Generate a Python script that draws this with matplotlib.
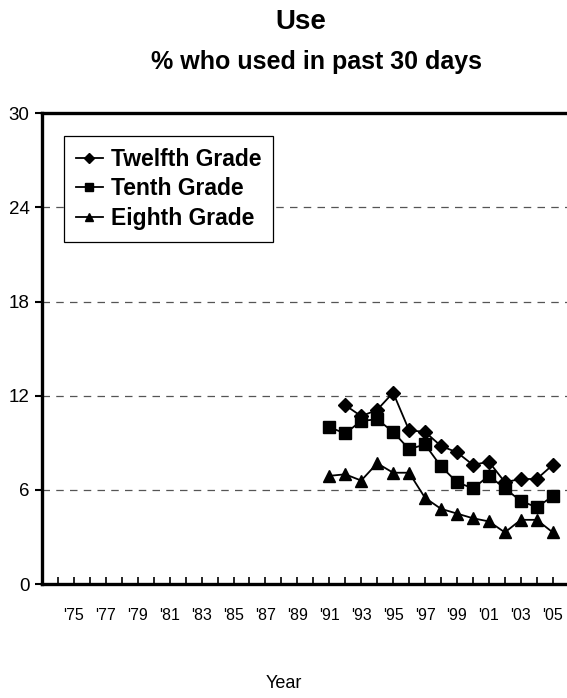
import matplotlib
matplotlib.use('Agg')
import matplotlib.pyplot as plt

plt.rcParams['font.family'] = ['Liberation Sans', 'DejaVu Sans']

# Monitoring the Future style chart, 30-day use
years_12 = list(range(1992, 2006))
twelfth = [11.4, 10.7, 11.1, 12.2, 9.8, 9.7, 8.8, 8.4, 7.6, 7.8, 6.5, 6.7, 6.7, 7.6]

years_10 = list(range(1991, 2006))
tenth = [10.0, 9.6, 10.4, 10.5, 9.7, 8.6, 8.9, 7.5, 6.5, 6.1, 6.9, 6.1, 5.3, 4.9, 5.6]

years_8 = list(range(1991, 2006))
eighth = [6.9, 7.0, 6.6, 7.7, 7.1, 7.1, 5.5, 4.8, 4.5, 4.2, 4.0, 3.3, 4.1, 4.1, 3.3]

tick_years = list(range(1975, 2006, 2))
tick_labels = ["'%02d" % (y % 100) for y in tick_years]
y_ticks = [0, 6, 12, 18, 24, 30]

fig = plt.figure(figsize=(5.67, 6.98), dpi=100)
ax = fig.add_axes([0.074, 0.163, 0.929, 0.675])

ax.plot(years_12, twelfth, color='black', marker='D', markersize=7, lw=1.3, label='Twelfth Grade')
ax.plot(years_10, tenth, color='black', marker='s', markersize=8, lw=1.3, label='Tenth Grade')
ax.plot(years_8, eighth, color='black', marker='^', markersize=8.5, lw=1.3, label='Eighth Grade')

ax.set_xlim(1973, 2006)
ax.set_ylim(0, 30)
ax.set_yticks(y_ticks)
ax.set_yticklabels([str(v) for v in y_ticks], fontsize=13.5)
ax.set_xticks(tick_years)
ax.set_xticklabels(tick_labels, fontsize=11.5)
ax.set_xticks(range(1974, 2006), minor=True)
ax.tick_params(axis='x', which='both', direction='in', length=5, width=1.2, pad=17)
ax.tick_params(axis='y', direction='out', length=5, width=1.5, pad=4)

for g in y_ticks[1:-1]:
    ax.axhline(g, color='#555555', lw=0.9, ls=(0, (6, 5)), zorder=0)

for s in ['left', 'bottom', 'top']:
    ax.spines[s].set_linewidth(2.4)
ax.spines['right'].set_visible(False)

leg = ax.legend(loc='upper left', bbox_to_anchor=(0.042, 0.951), frameon=True, fancybox=False,
                handlelength=1.2, handletextpad=0.35, borderpad=0.5, labelspacing=0.3,
                borderaxespad=0, prop={'weight': 'bold', 'size': 16.5}, markerscale=0.7)
leg.get_frame().set_edgecolor('black')
leg.get_frame().set_linewidth(0.9)
leg.get_frame().set_alpha(1)

fig.text(0.531, 0.968, 'Use', ha='center', va='center', fontsize=20, fontweight='bold')
fig.text(0.559, 0.911, '% who used in past 30 days', ha='center', va='center', fontsize=18, fontweight='bold')
fig.text(0.5, 0.021, 'Year', ha='center', va='center', fontsize=13)

fig.savefig('out.png', dpi=100)
